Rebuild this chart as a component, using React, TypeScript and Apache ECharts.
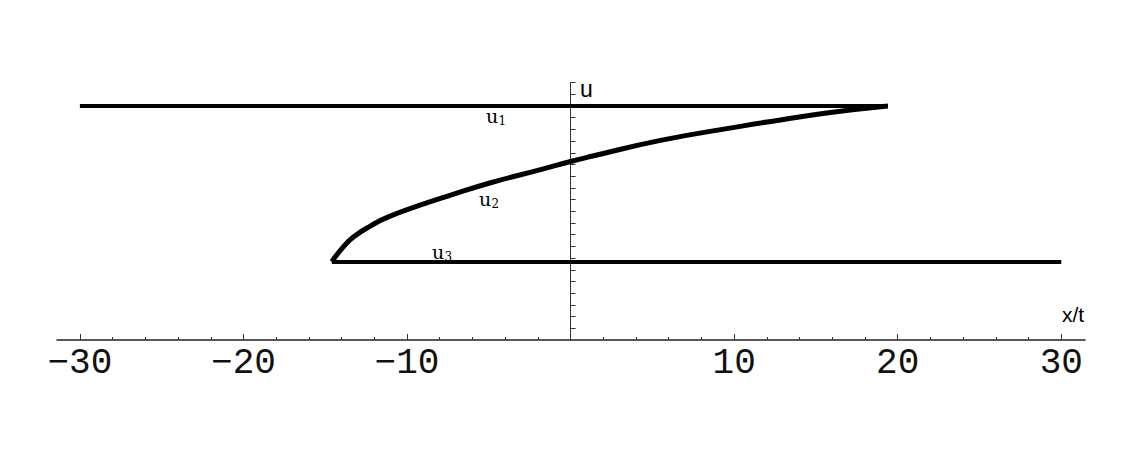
import React, { useEffect, useRef } from "react";
import * as echarts from "echarts";

// x/t range and ticks
const xMin = -31.4;
const xMax = 31.45;
const xMajorTicks = [-30, -20, -10, 10, 20, 30];
const xMinorTicks = [-28, -26, -24, -22, -18, -16, -14, -12, -8, -6, -4, -2, 2, 4, 6, 8, 12, 14, 16, 18, 22, 24, 26, 28];
// u range and ticks
const yMin = 0;
const yMax = 1.1;
const yTicks = [0.05, 0.1, 0.15, 0.2, 0.25, 0.3, 0.35, 0.4, 0.45, 0.5, 0.55, 0.6, 0.65, 0.7, 0.75, 0.8, 0.85, 0.9, 0.95, 1.0, 1.05, 1.1];

// series
const u1Line = [[-30, 1.0], [19.4, 1.0]];
const u3Line = [[-14.6, 0.333], [30, 0.333]];
const u2Curve = [
  [-14.6, 0.335], [-13.87, 0.4], [-13.26, 0.441], [-12.22, 0.488], [-11.18, 0.525],
  [-9.16, 0.577], [-7.51, 0.615], [-4.89, 0.672], [-1.83, 0.728], [0, 0.763],
  [1.22, 0.784], [5.5, 0.853], [10.38, 0.913], [12.83, 0.94], [15.88, 0.972], [19.4, 1.0],
];

const fmt = (v: number) => (v < 0 ? "\u2212" + Math.abs(v) : String(v));

export default function App() {
  const ref = useRef<HTMLDivElement>(null);
  useEffect(() => {
    if (!ref.current) return;
    const chart = echarts.init(ref.current, null, { renderer: "svg" });
    const serif = "DejaVu Serif";
    const sub = (txt: string, s: string, x: number, y: number) => [
      { type: "text", left: x, top: y, style: { text: txt, font: `19px '${serif}'`, fill: "#000" } },
      { type: "text", left: x + 12.5, top: y + 9, style: { text: s, font: `12px '${serif}'`, fill: "#000" } },
    ];
    chart.setOption({
      animation: false,
      backgroundColor: "#fff",
      grid: { left: 57, right: 46, top: 82.6, bottom: 116, containLabel: false },
      xAxis: [
        {
          type: "value", min: xMin, max: xMax, position: "bottom",
          axisLine: { onZero: false, lineStyle: { color: "#222", width: 1.5 } },
          axisTick: { inside: true, length: 6, customValues: xMajorTicks, lineStyle: { color: "#333" } },
          axisLabel: {
            customValues: xMajorTicks, formatter: fmt, margin: 5,
            fontFamily: "Liberation Mono", fontSize: 36, color: "#111",
          },
          splitLine: { show: false },
        },
        {
          type: "value", min: xMin, max: xMax, position: "bottom",
          axisLine: { show: false, onZero: false },
          axisTick: { inside: true, length: 3, customValues: xMinorTicks, lineStyle: { color: "#333" } },
          axisLabel: { show: false },
          splitLine: { show: false },
        },
      ],
      yAxis: {
        type: "value", min: yMin, max: yMax,
        axisLine: { onZero: true, lineStyle: { color: "#333", width: 1 } },
        axisTick: { inside: true, length: 5, customValues: yTicks, lineStyle: { color: "#333" } },
        axisLabel: { show: false },
        splitLine: { show: false },
      },
      graphic: [
        { type: "text", left: 580, top: 77, style: { text: "u", font: "23px 'Liberation Sans'", fill: "#000" } },
        { type: "text", left: 1062, top: 304, style: { text: "x/t", font: "21px 'Liberation Sans'", fill: "#000" } },
        ...sub("u", "1", 486, 106),
        ...sub("u", "2", 479, 189),
        ...sub("u", "3", 432, 242),
      ],
      series: [
        { type: "line", data: u1Line, symbol: "none", lineStyle: { color: "#000", width: 4 } },
        { type: "line", data: u3Line, symbol: "none", lineStyle: { color: "#000", width: 4 } },
        {
          type: "line", data: u2Curve, symbol: "none", smooth: 0.5,
          lineStyle: { color: "#000", width: 5 },
        },
      ],
    });
    return () => chart.dispose();
  }, []);
  return (
    <div
      ref={ref}
      style={{ position: "absolute", left: 0, top: 0, width: 1131, height: 456, background: "#fff" }}
    />
  );
}
